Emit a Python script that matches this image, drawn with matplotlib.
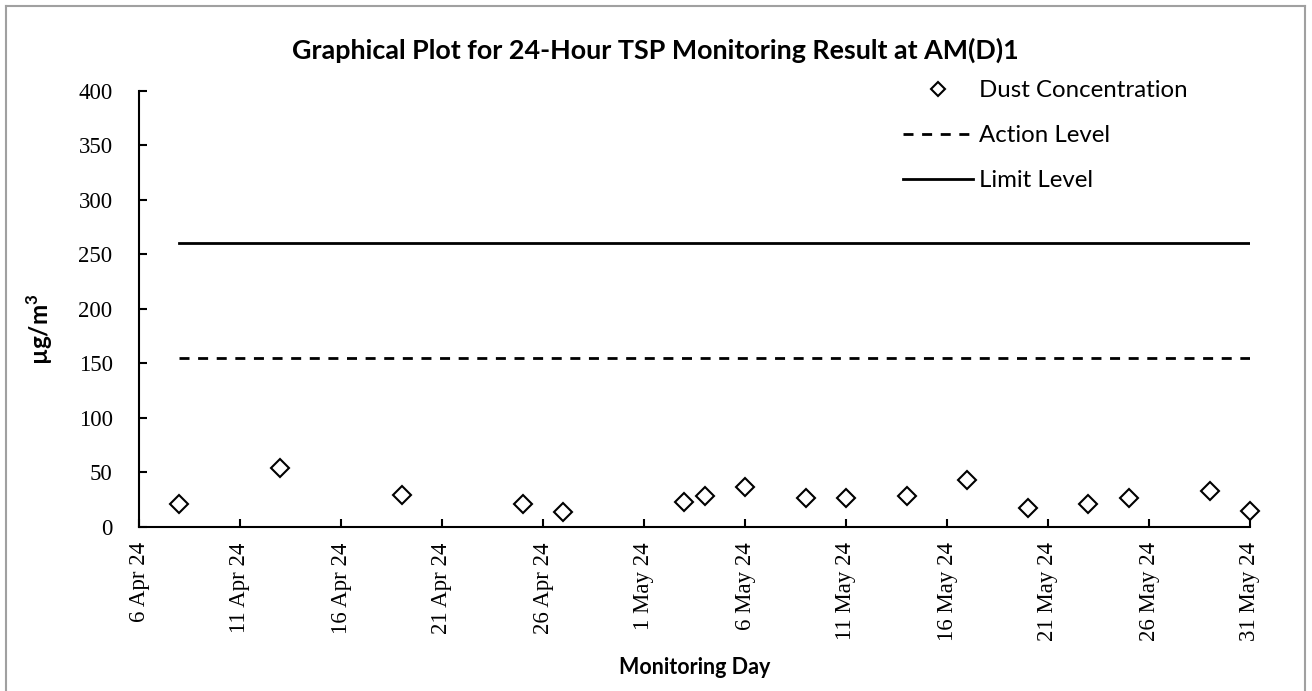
import datetime as dt
import matplotlib
matplotlib.use("Agg")
import matplotlib.pyplot as plt
import matplotlib.dates as mdates
from matplotlib.lines import Line2D
from matplotlib.ticker import FuncFormatter, MultipleLocator

# 24-hour TSP results at AM(D)1
dates = ["2024-04-08", "2024-04-13", "2024-04-19", "2024-04-25", "2024-04-27",
         "2024-05-03", "2024-05-04", "2024-05-06", "2024-05-09", "2024-05-11",
         "2024-05-14", "2024-05-17", "2024-05-20", "2024-05-23", "2024-05-25",
         "2024-05-29", "2024-05-31"]
dust = [21, 54, 29, 21, 14, 23, 28, 37, 27, 27, 28, 43, 17, 21, 27, 33, 15]
action_level = 155
limit_level = 260
x_start, x_end = "2024-04-06", "2024-05-31"

days = [dt.datetime.strptime(d, "%Y-%m-%d") for d in dates]
x0 = dt.datetime.strptime(x_start, "%Y-%m-%d")
x1 = dt.datetime.strptime(x_end, "%Y-%m-%d")

W, H = 1312, 691
fig = plt.figure(figsize=(W / 100, H / 100), dpi=100)
ax = fig.add_axes([139 / W, 1 - 527 / H, (1250 - 139) / W, (527 - 90.7) / H])

sans = "Lato"
serif = "Liberation Serif"

ax.plot(days, dust, linestyle="none", marker="D", markersize=9.5,
        markerfacecolor="white", markeredgecolor="black", markeredgewidth=1.5,
        label="Dust Concentration", zorder=3, clip_on=False)
ax.plot([days[0], x1], [action_level] * 2, color="black", lw=2,
        dashes=(3.6, 3.1), label="Action Level")
ax.plot([days[0], x1], [limit_level] * 2, color="black", lw=2,
        label="Limit Level")

ax.set_xlim(x0, x1)
ax.set_ylim(0, 400)
ax.yaxis.set_major_locator(MultipleLocator(50))
ax.xaxis.set_major_locator(mdates.DayLocator(bymonthday=[1, 6, 11, 16, 21, 26, 31]))
ax.xaxis.set_major_formatter(
    FuncFormatter(lambda v, p: (lambda d: f"{d.day} {d:%b %y}")(mdates.num2date(v))))

for s in ("top", "right"):
    ax.spines[s].set_visible(False)
for s in ("left", "bottom"):
    ax.spines[s].set_linewidth(1.5)

ax.tick_params(axis="both", direction="in", length=6, width=1.5,
               labelsize=16.5)
ax.tick_params(axis="y", pad=19)
ax.tick_params(axis="x", pad=11, labelrotation=90)
for lab in ax.get_xticklabels() + ax.get_yticklabels():
    lab.set_fontfamily(serif)

fig.text(655 / W, 1 - 50 / H,
         "Graphical Plot for 24-Hour TSP Monitoring Result at AM(D)1",
         ha="center", va="center", fontsize=19.4, fontweight="bold", family=sans)
fig.text(695 / W, 1 - 668 / H, "Monitoring Day", ha="center", va="center",
         fontsize=15.5, fontweight="bold", family=sans)
fig.text(40 / W, 1 - 329 / H, "µg/m$^\\mathregular{3}$", ha="center", va="center",
         rotation=90, fontsize=17.5, fontweight="bold", family=sans)

handles = [
    Line2D([], [], linestyle="none", marker="D", markersize=7,
           markerfacecolor="white", markeredgecolor="black", markeredgewidth=1.5),
    Line2D([], [], color="black", lw=2, dashes=(3.6, 3.1)),
    Line2D([], [], color="black", lw=2),
]
fig.legend(handles, ["Dust Concentration", "Action Level", "Limit Level"],
           loc="upper left", bbox_to_anchor=(891 / W, 1 - 68 / H),
           frameon=False, borderpad=0, handlelength=2.9, handletextpad=0.25,
           labelspacing=1.0, prop={"family": sans, "size": 17.3})

# outer chart border
border = dict(color="#a0a0a0", lw=1.5, transform=fig.transFigure)
fig.add_artist(Line2D([6 / W, 6 / W], [0, 1 - 6 / H], **border))
fig.add_artist(Line2D([6 / W, 1305 / W], [1 - 6 / H, 1 - 6 / H], **border))
fig.add_artist(Line2D([1305 / W, 1305 / W], [0, 1 - 6 / H], **border))

fig.savefig("out.png", dpi=100)
